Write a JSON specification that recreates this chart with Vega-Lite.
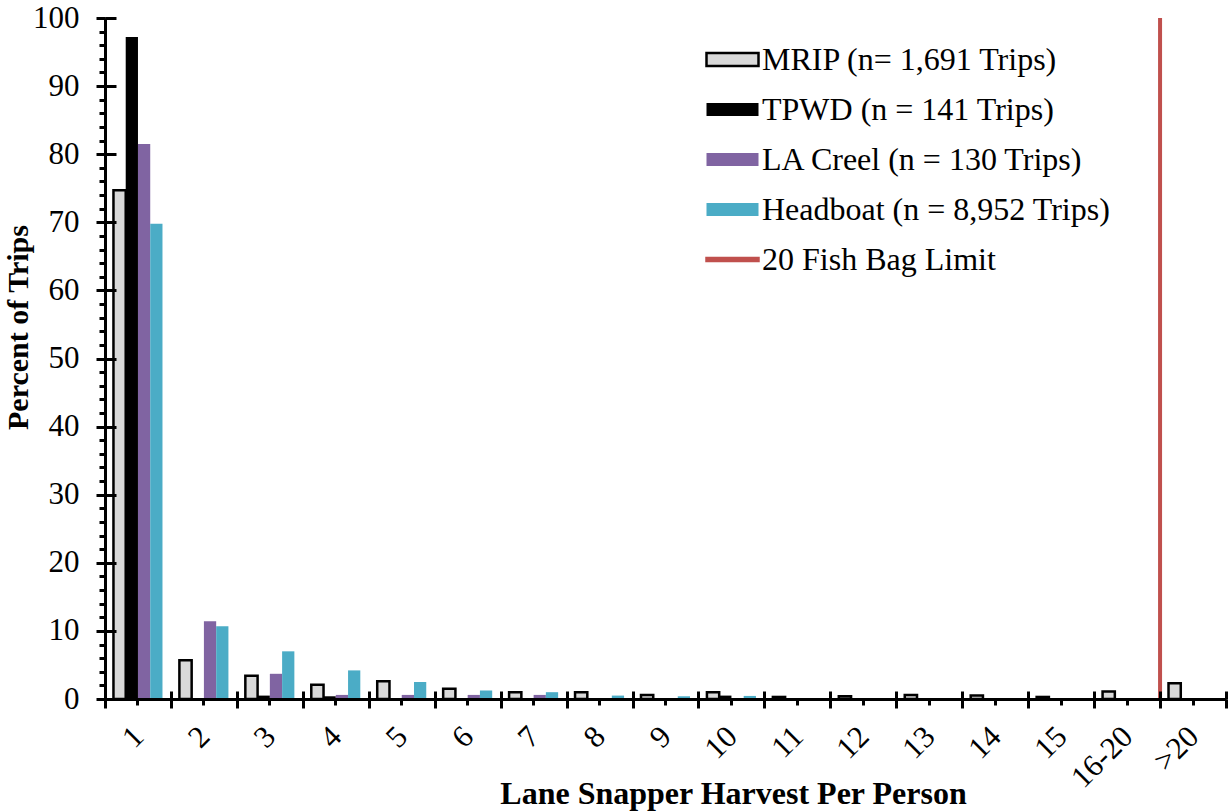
{
  "$schema": "https://vega.github.io/schema/vega-lite/v6.json",
  "autosize": {"type": "none"},
  "padding": {"left": 105, "top": 18, "right": 2, "bottom": 112},
  "width": 1121,
  "height": 681,
  "config": {
    "font": "Liberation Serif",
    "view": {"stroke": null},
    "axis": {"grid": false, "domainColor": "black", "tickColor": "black", "labelColor": "black", "titleColor": "black"}
  },
  "datasets": {
    "bars": [
      {"cat": "1", "series": "MRIP (n= 1,691 Trips)", "pct": 74.7},
      {"cat": "2", "series": "MRIP (n= 1,691 Trips)", "pct": 5.7},
      {"cat": "3", "series": "MRIP (n= 1,691 Trips)", "pct": 3.4},
      {"cat": "4", "series": "MRIP (n= 1,691 Trips)", "pct": 2.1},
      {"cat": "5", "series": "MRIP (n= 1,691 Trips)", "pct": 2.6},
      {"cat": "6", "series": "MRIP (n= 1,691 Trips)", "pct": 1.5},
      {"cat": "7", "series": "MRIP (n= 1,691 Trips)", "pct": 1.0},
      {"cat": "8", "series": "MRIP (n= 1,691 Trips)", "pct": 1.0},
      {"cat": "9", "series": "MRIP (n= 1,691 Trips)", "pct": 0.6},
      {"cat": "10", "series": "MRIP (n= 1,691 Trips)", "pct": 1.0},
      {"cat": "11", "series": "MRIP (n= 1,691 Trips)", "pct": 0.3},
      {"cat": "12", "series": "MRIP (n= 1,691 Trips)", "pct": 0.4},
      {"cat": "13", "series": "MRIP (n= 1,691 Trips)", "pct": 0.6},
      {"cat": "14", "series": "MRIP (n= 1,691 Trips)", "pct": 0.5},
      {"cat": "15", "series": "MRIP (n= 1,691 Trips)", "pct": 0.3},
      {"cat": "16-20", "series": "MRIP (n= 1,691 Trips)", "pct": 1.1},
      {"cat": ">20", "series": "MRIP (n= 1,691 Trips)", "pct": 2.3},
      {"cat": "1", "series": "TPWD (n = 141 Trips)", "pct": 97.2},
      {"cat": "3", "series": "TPWD (n = 141 Trips)", "pct": 0.5},
      {"cat": "4", "series": "TPWD (n = 141 Trips)", "pct": 0.4},
      {"cat": "10", "series": "TPWD (n = 141 Trips)", "pct": 0.5},
      {"cat": "1", "series": "LA Creel (n = 130 Trips)", "pct": 81.5},
      {"cat": "2", "series": "LA Creel (n = 130 Trips)", "pct": 11.4},
      {"cat": "3", "series": "LA Creel (n = 130 Trips)", "pct": 3.7},
      {"cat": "4", "series": "LA Creel (n = 130 Trips)", "pct": 0.6},
      {"cat": "5", "series": "LA Creel (n = 130 Trips)", "pct": 0.6},
      {"cat": "6", "series": "LA Creel (n = 130 Trips)", "pct": 0.6},
      {"cat": "7", "series": "LA Creel (n = 130 Trips)", "pct": 0.6},
      {"cat": "1", "series": "Headboat (n = 8,952 Trips)", "pct": 69.8},
      {"cat": "2", "series": "Headboat (n = 8,952 Trips)", "pct": 10.7},
      {"cat": "3", "series": "Headboat (n = 8,952 Trips)", "pct": 7.0},
      {"cat": "4", "series": "Headboat (n = 8,952 Trips)", "pct": 4.2},
      {"cat": "5", "series": "Headboat (n = 8,952 Trips)", "pct": 2.5},
      {"cat": "6", "series": "Headboat (n = 8,952 Trips)", "pct": 1.25},
      {"cat": "7", "series": "Headboat (n = 8,952 Trips)", "pct": 1.0},
      {"cat": "8", "series": "Headboat (n = 8,952 Trips)", "pct": 0.5},
      {"cat": "9", "series": "Headboat (n = 8,952 Trips)", "pct": 0.4},
      {"cat": "10", "series": "Headboat (n = 8,952 Trips)", "pct": 0.45}
    ],
    "limit": [
      {"cat": ">20", "series": "20 Fish Bag Limit"}
    ]
  },
  "resolve": {"axis": {"x": "independent", "y": "independent"}},
  "layer": [
    {
      "data": {"name": "bars"},
      "transform": [{"filter": "datum.series !== 'MRIP (n= 1,691 Trips)'"}],
      "mark": {"type": "bar", "strokeWidth": 2.5},
      "encoding": {
        "x": {
          "field": "cat", "type": "nominal",
          "scale": {"domain": ["1","2","3","4","5","6","7","8","9","10","11","12","13","14","15","16-20",">20"], "paddingInner": 0, "paddingOuter": 0},
          "axis": {
            "orient": "bottom", "zindex": 1, "tickBand": "extent", "tickSize": 9, "tickWidth": 3, "domainWidth": 3,
            "labelAngle": -45, "labelFontSize": 31, "labelPadding": 13, "labelOffset": -10, "labelFont": "Liberation Serif",
            "title": "Lane Snapper Harvest Per Person", "titleFontSize": 32, "titleFontWeight": "bold",
            "titleX": 628, "titleY": 104, "titleBaseline": "alphabetic", "titleAlign": "center"
          }
        },
        "xOffset": {
          "field": "series", "type": "nominal",
          "scale": {"domain": ["MRIP (n= 1,691 Trips)", "TPWD (n = 141 Trips)", "LA Creel (n = 130 Trips)", "Headboat (n = 8,952 Trips)"], "paddingInner": 0, "paddingOuter": 0.69}
        },
        "y": {
          "field": "pct", "type": "quantitative",
          "scale": {"domain": [0, 100], "nice": false},
          "axis": {
            "orient": "left", "zindex": 1, "values": [0,10,20,30,40,50,60,70,80,90,100], "tickSize": 9, "tickWidth": 3, "domainWidth": 3,
            "labelFontSize": 31, "labelPadding": 17, "labelFont": "Liberation Serif",
            "title": "Percent of Trips", "titleFontSize": 30, "titleFontWeight": "bold",
            "titleX": -72, "titleY": 309, "titleAngle": 270, "titleBaseline": "bottom", "titleAlign": "center"
          }
        },
        "color": {
          "field": "series", "type": "nominal",
          "scale": {
            "domain": ["MRIP (n= 1,691 Trips)", "TPWD (n = 141 Trips)", "LA Creel (n = 130 Trips)", "Headboat (n = 8,952 Trips)", "20 Fish Bag Limit"],
            "range": ["#d9d9d9", "#000000", "#8064a2", "#4bacc6", "#c0504d"]
          },
          "legend": {
            "orient": "none", "legendX": 600, "legendY": 14, "title": null, "padding": 0,
            "symbolType": "M-1,-0.25H1V0.25H-1Z", "symbolSize": 2704, "symbolStrokeWidth": 2.5, "symbolOpacity": 1,
            "labelFontSize": 32, "labelFont": "Liberation Serif",
            "labelColor": "black", "labelOffset": 2, "labelLimit": 600, "rowPadding": 6,
            "encode": {
              "symbols": {
                "update": {
                  "shape": {"signal": "datum.value === '20 Fish Bag Limit' ? 'M-1,-0.06H1V0.06H-1Z' : 'M-1,-0.25H1V0.25H-1Z'"}
                }
              }
            }
          }
        },
        "stroke": {
          "field": "series", "type": "nominal",
          "scale": {
            "domain": ["MRIP (n= 1,691 Trips)", "TPWD (n = 141 Trips)", "LA Creel (n = 130 Trips)", "Headboat (n = 8,952 Trips)", "20 Fish Bag Limit"],
            "range": ["#000000", "transparent", "transparent", "transparent", "#c0504d"]
          }
        }
      }
    },
    {
      "data": {"name": "bars"},
      "transform": [{"filter": "datum.series === 'MRIP (n= 1,691 Trips)'"}],
      "mark": {"type": "bar", "strokeWidth": 2.5},
      "encoding": {
        "x": {
          "field": "cat", "type": "nominal",
          "scale": {"domain": ["1","2","3","4","5","6","7","8","9","10","11","12","13","14","15","16-20",">20"], "paddingInner": 0, "paddingOuter": 0},
          "axis": {"orient": "top", "offset": -681, "zindex": 1, "tickBand": "extent", "tickSize": 8, "tickWidth": 3, "domain": false, "labels": false, "title": null}
        },
        "xOffset": {
          "field": "series", "type": "nominal",
          "scale": {"domain": ["MRIP (n= 1,691 Trips)", "TPWD (n = 141 Trips)", "LA Creel (n = 130 Trips)", "Headboat (n = 8,952 Trips)"], "paddingInner": 0, "paddingOuter": 0.69}
        },
        "y": {
          "field": "pct", "type": "quantitative",
          "scale": {"domain": [0, 100], "nice": false},
          "axis": {"orient": "right", "offset": -1121, "zindex": 1, "values": [0,10,20,30,40,50,60,70,80,90,100], "tickSize": 11, "tickWidth": 3, "domain": false, "labels": false, "title": null}
        },
        "color": {"field": "series", "type": "nominal"},
        "stroke": {"field": "series", "type": "nominal"}
      }
    },
    {
      "data": {"name": "limit"},
      "mark": {"type": "rule", "strokeWidth": 4},
      "encoding": {
        "x": {
          "field": "cat", "type": "nominal", "bandPosition": 0,
          "scale": {"domain": ["1","2","3","4","5","6","7","8","9","10","11","12","13","14","15","16-20",">20"], "paddingInner": 0, "paddingOuter": 0},
          "axis": {"orient": "bottom", "zindex": 1, "bandPosition": 0.5, "tickSize": 6, "tickWidth": 3, "domain": false, "labels": false, "title": null}
        },
        "y": {
          "datum": 0, "type": "quantitative",
          "scale": {"domain": [0, 100], "nice": false},
          "axis": {"orient": "left", "zindex": 1, "values": [0,2,4,6,8,10,12,14,16,18,20,22,24,26,28,30,32,34,36,38,40,42,44,46,48,50,52,54,56,58,60,62,64,66,68,70,72,74,76,78,80,82,84,86,88,90,92,94,96,98,100], "tickSize": 6, "tickWidth": 3, "domain": false, "labels": false, "title": null}
        },
        "y2": {"datum": 100},
        "color": {"field": "series", "type": "nominal"},
        "stroke": {"field": "series", "type": "nominal"}
      }
    }
  ]
}
